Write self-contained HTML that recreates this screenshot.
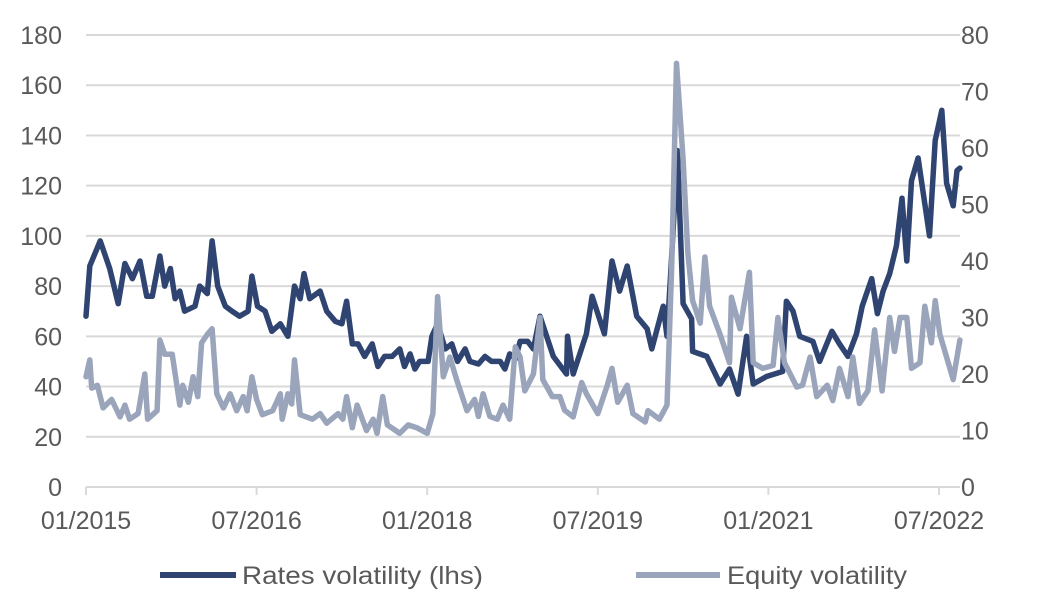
<!DOCTYPE html>
<html><head><meta charset="utf-8"><style>
html,body{margin:0;padding:0;background:#fff;}
svg{display:block;font-family:"Liberation Sans",Arial,sans-serif;}
</style></head><body>
<svg id="chart" width="1039" height="595" viewBox="0 0 1039 595" xmlns="http://www.w3.org/2000/svg">
<g id="grid"></g>
<g id="ylabels"></g>
<g id="y2labels"></g>
<g id="xlabels"></g>
<g id="series"></g>
<g>
  <g>
    <line x1="160" y1="575" x2="236" y2="575" stroke="#2f4470" stroke-width="6"/>
    <text x="242" y="584" font-size="25" fill="#595959" textLength="241" lengthAdjust="spacingAndGlyphs">Rates volatility (lhs)</text>
  </g>
  <g>
    <line x1="636" y1="575" x2="720" y2="575" stroke="#9aa5bb" stroke-width="6"/>
    <text x="727" y="584" font-size="25" fill="#595959" textLength="180" lengthAdjust="spacingAndGlyphs">Equity volatility</text>
  </g>
</g>
</svg>
<script>
const leftTicks = [0,20,40,60,80,100,120,140,160,180];
const rightTicks = [0,10,20,30,40,50,60,70,80];
const xTickMonths = [0,18,36,54,72,90];
const xTickLabels = ["01/2015","07/2016","01/2018","07/2019","01/2021","07/2022"];
const ratesMonths = [0,0.4,1.5,2.5,3.4,4.1,4.9,5.7,6.4,7.0,7.8,8.3,8.9,9.4,9.9,10.4,11.5,12.0,12.8,13.3,13.9,14.7,15.4,16.2,17.1,17.5,18.1,18.9,19.6,20.5,21.3,22.0,22.6,23.0,23.6,24.7,25.4,26.3,27.0,27.5,28.1,28.7,29.4,30.2,30.8,31.5,32.3,33.1,33.6,34.2,34.7,35.2,36.1,36.5,37.1,37.9,38.6,39.2,40.0,40.5,41.4,42.1,42.8,43.7,44.2,44.7,45.3,45.8,46.6,47.2,47.9,49.3,50.7,50.8,51.4,52.8,53.4,54.7,55.5,56.3,57.1,58.1,59.2,59.7,60.9,61.3,61.8,62.4,63.0,63.9,64.0,65.5,66.9,67.9,68.8,69.7,70.4,71.8,73.5,73.9,74.6,75.3,76.7,77.4,78.7,79.5,80.4,81.3,81.9,82.9,83.5,84.1,84.8,85.5,86.1,86.6,87.1,87.8,89.0,89.6,90.3,90.8,91.5,91.9,92.2];
const ratesValues = [68,88,98,87,73,89,83,90,76,76,92,80,87,75,78,70,72,80,77,98,80,72,70,68,70,84,72,70,62,65,60,80,75,85,75,78,70,66,65,74,57,57,52,57,48,52,52,55,48,53,47,50,50,60,65,55,57,50,55,50,49,52,50,50,47,53,51,58,58,55,68,52,45,60,45,61,76,61,90,78,88,68,63,55,72,60,92,134,73,67,54,52,41,47,37,60,41,44,46,74,70,60,58,50,62,57,52,61,72,83,69,78,85,96,115,90,122,131,100,138,150,121,112,126,127];
const equityMonths = [0,0.4,0.6,1.2,1.8,2.7,3.6,4.1,4.6,5.5,6.2,6.5,7.5,7.8,8.3,9.1,9.9,10.2,10.8,11.3,11.8,12.2,12.8,13.3,13.8,14.5,15.2,15.9,16.6,17.0,17.5,18.0,18.6,19.7,20.5,20.7,21.3,21.7,22.0,22.6,23.9,24.7,25.4,26.6,27.1,27.5,28.1,28.6,29.6,30.3,30.7,31.3,31.8,33.1,34.0,34.9,36.0,36.6,37.1,37.7,38.4,39.1,39.7,40.2,41.0,41.4,41.9,42.6,43.4,44.0,44.7,45.3,45.8,46.3,47.2,47.9,48.2,49.2,50.0,50.5,51.4,52.3,52.8,54.0,55.0,55.5,56.1,57.1,57.7,59.0,59.3,60.5,61.3,61.8,62.3,63.0,63.5,64.0,64.8,65.3,65.8,66.9,67.9,68.1,69.0,70.0,70.4,71.4,72.5,73.0,73.7,75.0,75.6,76.4,77.1,78.2,78.8,79.5,80.4,80.9,81.6,82.5,83.2,84.0,84.8,85.3,85.9,86.6,87.1,88.0,88.5,89.2,89.6,90.1,90.8,91.5,92.2];
const equityValues = [19.5,22.5,17.5,18,14,15.5,12.4,14.5,12,13,20,12,13.5,26,23.5,23.5,14.5,18,15,19.5,16,25.5,27,28,16.5,14,16.5,13.5,16,13.5,19.5,15.5,12.8,13.5,16.5,12,16.5,14.7,22.5,12.8,12,13,11.3,13,12,16,10.5,14.5,10,12,9.5,16,11,9.5,11,10.5,9.5,13,33.7,19.5,23,19,16,13.5,15.5,12.5,16.5,12.5,12,14.5,12,24.8,23,17,20,30,19,16,16,13.6,12.4,18.5,16.5,13,18,21,15,18,13,11.5,13.5,12,14.5,39,75,58,41.5,33,29,40.7,32,27,22,33.6,28,38,22,21,21.5,30,22,17.7,18,23,16,18,15.3,21,16,23,14.8,17,27.8,17,30,24,30,30,21,22,32,25.5,33,27,23,19,26];

const NS="http://www.w3.org/2000/svg";
const x0=86, pxPerMonth=170.6/18, yBase=487, yTop=35;
function xScale(m){return x0+m*pxPerMonth;}
function yLeft(v){return yBase-(v/180)*(yBase-yTop);}
function yRight(v){return yBase-(v/80)*(yBase-yTop);}
function mk(tag,attrs,parent){const e=document.createElementNS(NS,tag);for(const k in attrs)e.setAttribute(k,attrs[k]);parent.appendChild(e);return e;}

const grid=document.getElementById('grid');
const yl=document.getElementById('ylabels');
const y2=document.getElementById('y2labels');
const xl=document.getElementById('xlabels');
const ser=document.getElementById('series');

leftTicks.forEach(v=>{
  const y=yLeft(v);
  const g=mk('line',{x1:86,x2:960,y1:y,y2:y,stroke:'#d9d9d9','stroke-width':2},grid);
  
  
  const t=mk('text',{x:62,y:y+9,'text-anchor':'end','font-size':25,fill:'#595959'},yl);
  t.textContent=v;
  
  
});
rightTicks.forEach(v=>{
  const t=mk('text',{x:961,y:yRight(v)+9,'font-size':25,fill:'#595959'},y2);
  t.textContent=v;
  
  
});
const ax=mk('line',{x1:86,x2:960,y1:yBase,y2:yBase,stroke:'#d9d9d9','stroke-width':2},xl);


xTickMonths.forEach((m,i)=>{
  const x=xScale(m);
  const tk=mk('line',{x1:x,x2:x,y1:yBase,y2:yBase+8,stroke:'#d9d9d9','stroke-width':2},xl);
  
  
  const t=mk('text',{x:x,y:529,'text-anchor':'middle','font-size':25,fill:'#595959'},xl);
  t.textContent=xTickLabels[i];
  
  
});
function path(ms,vs,ys,color){
  let d='';
  ms.forEach((m,i)=>{d+=(i?'L':'M')+xScale(m).toFixed(1)+','+ys(vs[i]).toFixed(1);});
  return mk('path',{d:d,fill:'none',stroke:color,'stroke-width':5.5,'stroke-linejoin':'round','stroke-linecap':'round'},ser);
}
const pr=path(ratesMonths,ratesValues,yLeft,'#2f4470');


const pe=path(equityMonths,equityValues,yRight,'#9aa5bb');


</script>
</body></html>
